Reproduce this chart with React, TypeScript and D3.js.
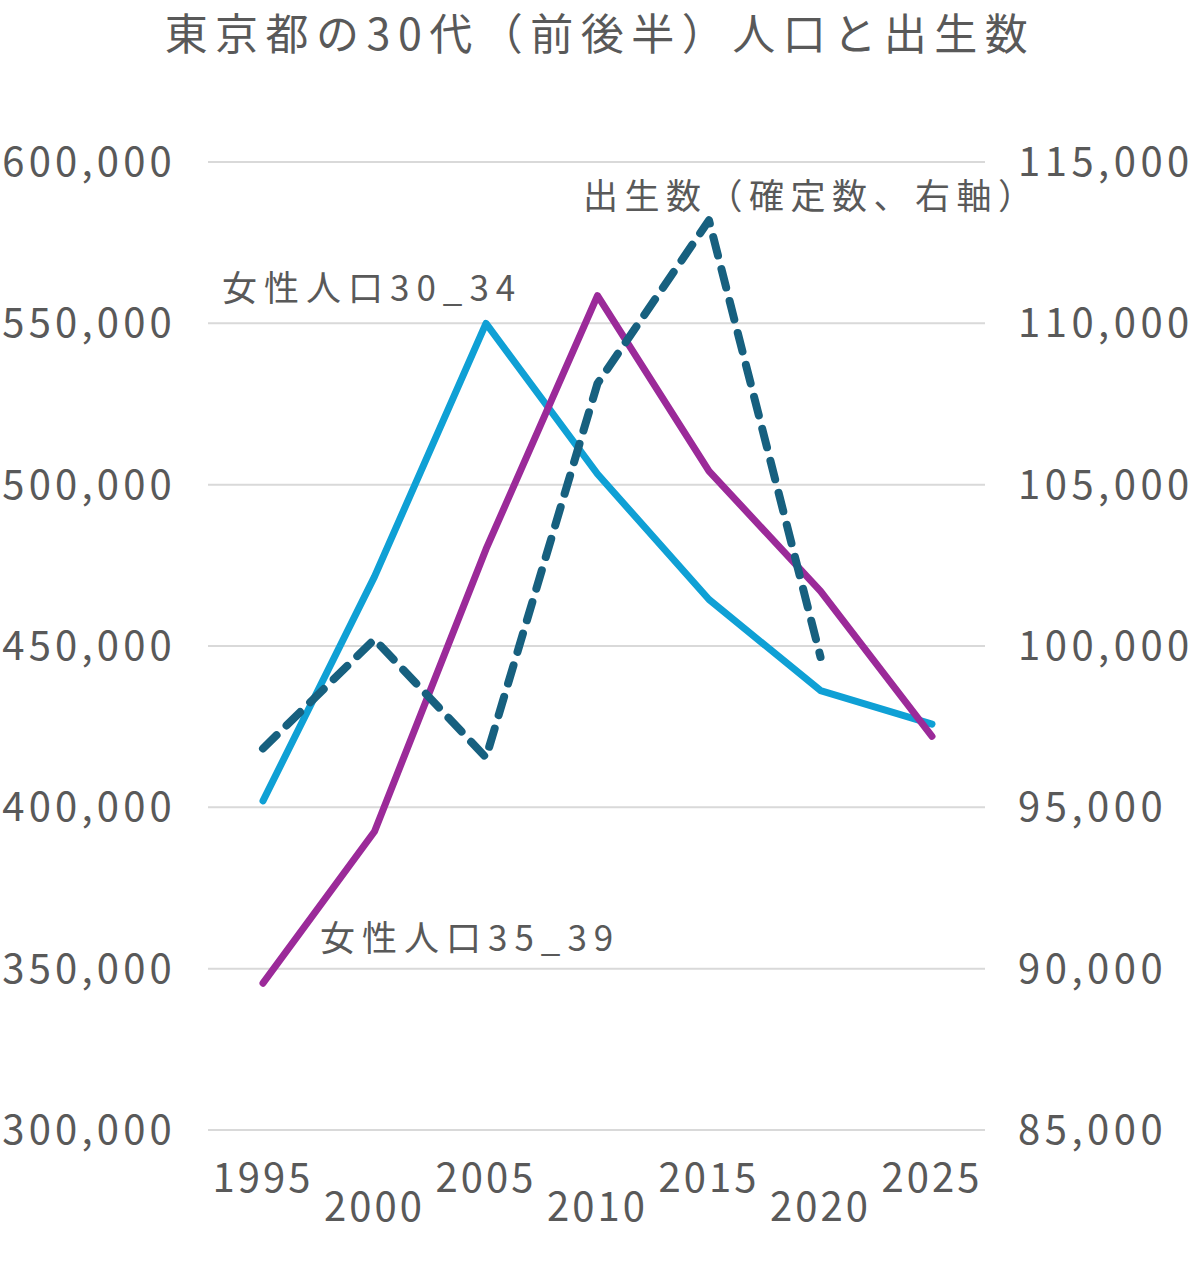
import React from "react";
import * as d3 from "d3";

const years = [1995, 2000, 2005, 2010, 2015, 2020, 2025];
const women30_34 = [402000, 471500, 550000, 503300, 464400, 436200, 425800];
const women35_39 = [345500, 392500, 480000, 558600, 504200, 467000, 422000];
const births = [96823, 100209, 96542, 108135, 113194, 99661];
const leftTicks = [300000, 350000, 400000, 450000, 500000, 550000, 600000];
const rightTicks = [85000, 90000, 95000, 100000, 105000, 110000, 115000];

const W = 1200;
const H = 1273;
const textColor = "#595959";
const font = "'Noto Sans CJK JP', 'Noto Sans', sans-serif";

export default function App() {
  const x = d3.scalePoint<number>().domain(years).range([263, 932]);
  const yL = d3.scaleLinear().domain([300000, 600000]).range([1130, 162]);
  const yR = d3.scaleLinear().domain([85000, 115000]).range([1130, 162]);
  const fmt = d3.format(",");

  const lineL = d3
    .line<number>()
    .x((_, i) => x(years[i]) as number)
    .y((d) => yL(d));
  const lineR = d3
    .line<number>()
    .x((_, i) => x(years[i]) as number)
    .y((d) => yR(d));

  return (
    <svg
      width={W}
      height={H}
      style={{ position: "absolute", left: 0, top: 0, background: "#fff" }}
      fontFamily={font}
    >
      <rect width={W} height={H} fill="#fff" />
      <text
        x={600}
        y={50}
        textAnchor="middle"
        fontSize={43}
        fill={textColor}
        letterSpacing={7.5}
      >
        東京都の30代（前後半）人口と出生数
      </text>

      {leftTicks.map((t) => (
        <line
          key={"g" + t}
          x1={208}
          x2={985}
          y1={yL(t)}
          y2={yL(t)}
          stroke="#d9d9d9"
          strokeWidth={2}
        />
      ))}

      {leftTicks.map((t) => (
        <text
          key={"l" + t}
          x={176}
          y={yL(t) + 14}
          textAnchor="end"
          fontSize={40}
          fill={textColor}
          letterSpacing={4.2}
        >
          {fmt(t)}
        </text>
      ))}
      {rightTicks.map((t) => (
        <text
          key={"r" + t}
          x={1018}
          y={yR(t) + 14}
          textAnchor="start"
          fontSize={40}
          fill={textColor}
          letterSpacing={4.5}
        >
          {fmt(t)}
        </text>
      ))}

      {years.map((yr, i) => (
        <text
          key={"x" + yr}
          x={x(yr)}
          y={i % 2 === 0 ? 1192 : 1221}
          textAnchor="middle"
          fontSize={40}
          fill={textColor}
          letterSpacing={3}
        >
          {yr}
        </text>
      ))}

      <path
        d={lineL(women30_34) || ""}
        fill="none"
        stroke="#0fa0d5"
        strokeWidth={7}
        strokeLinejoin="round"
        strokeLinecap="round"
      />
      <path
        d={lineL(women35_39) || ""}
        fill="none"
        stroke="#9b2a99"
        strokeWidth={7}
        strokeLinejoin="round"
        strokeLinecap="round"
      />
      <path
        d={lineR(births) || ""}
        fill="none"
        stroke="#17607f"
        strokeWidth={8}
        strokeDasharray="19 14"
        strokeLinejoin="round"
        strokeLinecap="round"
      />

      <text x={583} y={209} fontSize={35} fill={textColor} letterSpacing={6.5}>
        出生数（確定数、右軸）
      </text>
      <text x={222} y={301} fontSize={35} fill={textColor} letterSpacing={7}>
        女性人口30_34
      </text>
      <text x={320} y={951} fontSize={35} fill={textColor} letterSpacing={7}>
        女性人口35_39
      </text>
    </svg>
  );
}
